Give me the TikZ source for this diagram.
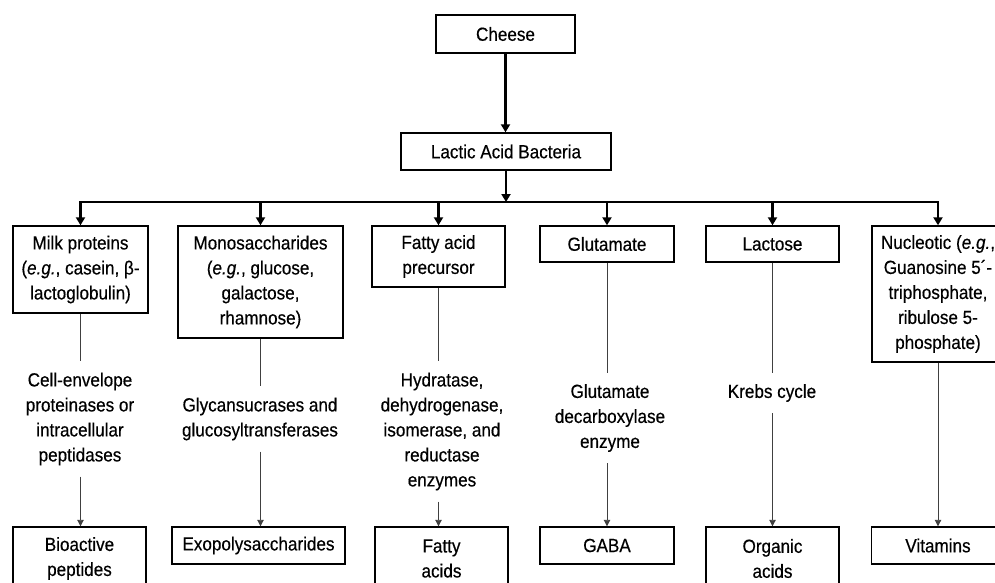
\documentclass[tikz,border=0pt]{standalone}
\usepackage{fontspec}
\setmainfont{Liberation Sans}[FakeStretch=0.9,FakeBold=0.4]
\usetikzlibrary{arrows.meta}
\begin{document}
\begin{tikzpicture}[x=1pt,y=-1pt,
  every node/.style={font=\fontsize{19}{25}\selectfont, align=center},
  box/.style={draw, line width=1.4pt, inner sep=0pt},
  lbl/.style={inner xsep=0pt, inner ysep=11pt},
  main/.style={line width=2.6pt, -{Triangle[width=9pt,length=8pt]}},
  thick tips/.style={line width=2.6pt, {Triangle[width=9pt,length=8pt]}-{Triangle[width=9pt,length=8pt]}},
  thinarrow/.style={line width=0.9pt, draw=black!75, -{Triangle[width=6.5pt,length=6.5pt]}},
  thinline/.style={line width=0.9pt, draw=black!75}]
\useasboundingbox (0,0) rectangle (995,583);
\clip (0,0) rectangle (995,583);
% top
\node[box, minimum width=139pt, minimum height=38pt] (cheese) at (505.5,34) {Cheese};
\node[box, minimum width=210pt, minimum height=37pt] (lab) at (506,151.5) {Lactic Acid Bacteria};
\coordinate (j) at (506,202);
% first row
\node[box, minimum width=135pt, minimum height=87pt] (b1) at (80.5,269.5) {Milk proteins\\(\textit{e.g.}, casein, β-\\lactoglobulin)};
\node[box, minimum width=165pt, minimum height=112pt] (b2) at (260.5,282) {Monosaccharides\\(\textit{e.g.}, glucose,\\galactose,\\rhamnose)};
\node[box, minimum width=133pt, minimum height=61pt] (b3) at (438.5,256.5) {Fatty acid\\precursor};
\node[box, minimum width=134pt, minimum height=36pt] (b4) at (607,244) {Glutamate};
\node[box, minimum width=133pt, minimum height=36pt] (b5) at (772.5,244) {Lactose};
\node[box, minimum width=132pt, minimum height=136pt] (b6) at (938,294) {Nucleotic (\textit{e.g.},\\Guanosine 5´-\\triphosphate,\\ribulose 5-\\phosphate)};
% labels
\node[lbl] (l1) at (80,419) {Cell-envelope\\proteinases or\\intracellular\\peptidases};
\node[lbl] (l2) at (260,419) {Glycansucrases and\\glucosyltransferases};
\node[lbl] (l3) at (442,431.5) {Hydratase,\\dehydrogenase,\\isomerase, and\\reductase\\enzymes};
\node[lbl] (l4) at (610,418) {Glutamate\\decarboxylase\\enzyme};
\node[lbl] (l5) at (772,393) {Krebs cycle};
% bottom row
\node[box, minimum width=133pt, minimum height=63pt] (o1) at (79.5,558.5) {Bioactive\\peptides};
\node[box, minimum width=173pt, minimum height=37pt] (o2) at (258.5,545.5) {Exopolysaccharides};
\node[box, minimum width=133pt, minimum height=63pt] (o3) at (441.5,558.5) {Fatty\\acids};
\node[box, minimum width=134pt, minimum height=37pt] (o4) at (607,545.5) {GABA};
\node[box, minimum width=133pt, minimum height=63pt] (o5) at (772.5,558.5) {Organic\\acids};
\node[box, minimum width=133pt, minimum height=37pt] (o6) at (938,545.5) {Vitamins};
% thick connectors
\draw[main] (cheese.south) -- (cheese.south |- lab.north);
\draw[main] (lab.south) -- (j);
\draw[thick tips, line join=miter] (b1.north) -- (b1.north |- j) -- (b6.north |- j) -- (b6.north);
\foreach \b in {b2,b3,b4,b5} \draw[main] (\b.north |- j) -- (\b.north);
% thin connectors
\foreach \b/\l/\o in {b1/l1/o1,b2/l2/o2,b3/l3/o3,b4/l4/o4,b5/l5/o5} {
  \draw[thinline] (\b.south) -- (\b.south |- \l.north);
  \draw[thinarrow] (\b.south |- \l.south) -- (\b.south |- \o.north);
}
\draw[thinarrow] (b6.south) -- (o6.north);
\end{tikzpicture}
\end{document}
